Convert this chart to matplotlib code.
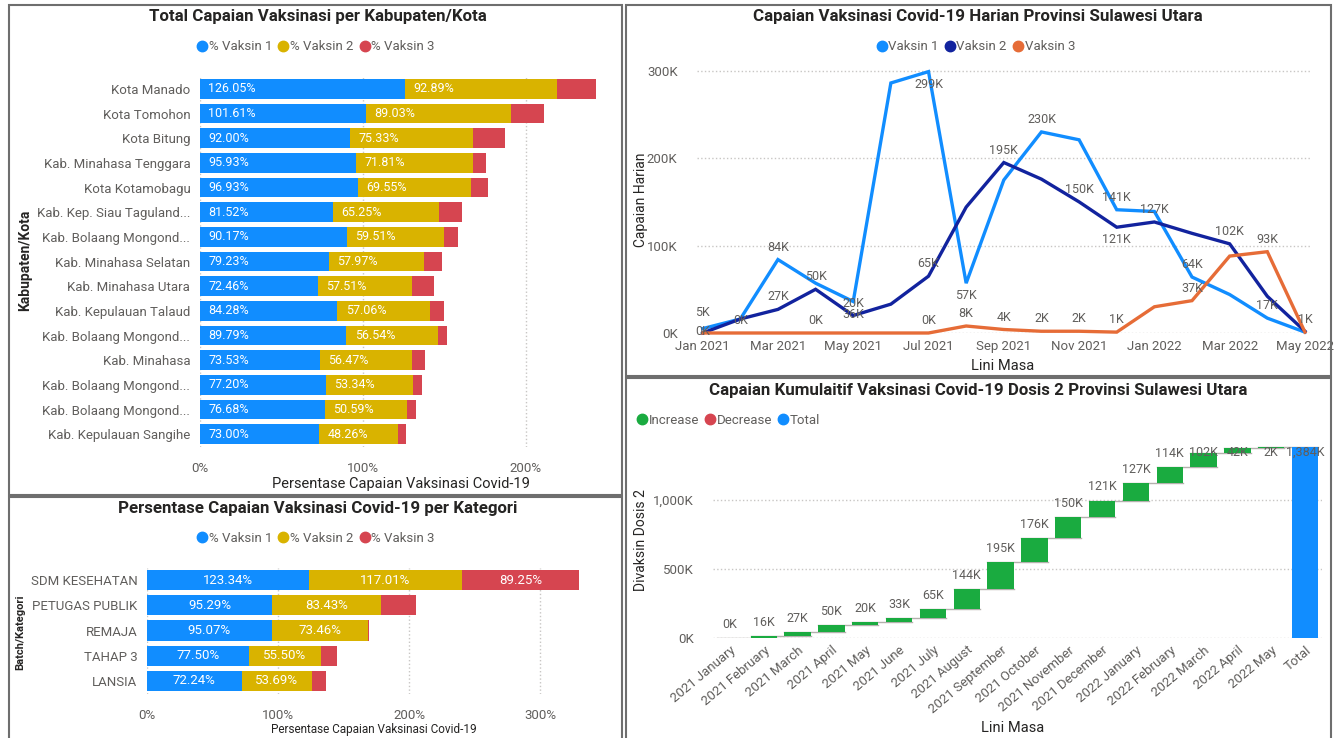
import numpy as np
import matplotlib
matplotlib.use("Agg")
import matplotlib.pyplot as plt
from matplotlib.lines import Line2D
from matplotlib.patches import Rectangle

plt.rcParams['font.family'] = ['Roboto', 'DejaVu Sans']

# ---- data ----
kabupaten = ["Kota Manado", "Kota Tomohon", "Kota Bitung", "Kab. Minahasa Tenggara",
             "Kota Kotamobagu", "Kab. Kep. Siau Taguland...", "Kab. Bolaang Mongond...",
             "Kab. Minahasa Selatan", "Kab. Minahasa Utara", "Kab. Kepulauan Talaud",
             "Kab. Bolaang Mongond...", "Kab. Minahasa", "Kab. Bolaang Mongond...",
             "Kab. Bolaang Mongond...", "Kab. Kepulauan Sangihe"]
kab_vaksin1 = [126.05, 101.61, 92.00, 95.93, 96.93, 81.52, 90.17, 79.23, 72.46, 84.28,
               89.79, 73.53, 77.20, 76.68, 73.00]
kab_vaksin2 = [92.89, 89.03, 75.33, 71.81, 69.55, 65.25, 59.51, 57.97, 57.51, 57.06,
               56.54, 56.47, 53.34, 50.59, 48.26]
kab_vaksin3 = [24.0, 20.5, 19.7, 8.0, 10.2, 14.1, 8.5, 11.2, 13.6, 8.3, 5.4, 8.0, 5.4, 5.1, 4.9]

kategori = ["SDM KESEHATAN", "PETUGAS PUBLIK", "REMAJA", "TAHAP 3", "LANSIA"]
kat_vaksin1 = [123.34, 95.29, 95.07, 77.50, 72.24]
kat_vaksin2 = [117.01, 83.43, 73.46, 55.50, 53.69]
kat_vaksin3 = [89.25, 26.5, 1.2, 12.0, 10.8]

bulan = ["Jan 2021", "Feb 2021", "Mar 2021", "Apr 2021", "May 2021", "Jun 2021",
         "Jul 2021", "Aug 2021", "Sep 2021", "Oct 2021", "Nov 2021", "Dec 2021",
         "Jan 2022", "Feb 2022", "Mar 2022", "Apr 2022", "May 2022"]
harian_vaksin1 = [5, 16, 84, 57, 36, 286, 299, 57, 175, 230, 221, 141, 139, 64, 44, 17, 1]   # ribu
harian_vaksin2 = [0, 16, 27, 50, 20, 33, 65, 144, 195, 176, 150, 121, 127, 114, 102, 42, 2]
harian_vaksin3 = [0, 0, 0, 0, 0, 0, 0, 8, 4, 2, 2, 1, 30, 37, 88, 93, 1]

# which points carry a data label: index -> vertical offset direction (+ above / - below)
label_v1 = {0: 1.3, 2: 1, 4: -1, 6: -1, 7: -1, 9: 1, 11: 1, 13: 1, 15: 1}
label_v2 = {0: 0.1, 2: 1, 3: 1, 4: 1, 6: 1, 8: 1, 10: 1, 11: -1, 12: 1, 14: 1}
label_v3 = {1: 1, 3: 1, 6: 1, 7: 1, 8: 1, 9: 1, 10: 1, 11: 1, 13: 1, 15: 1, 16: 1}

wf_labels = ["2021 January", "2021 February", "2021 March", "2021 April", "2021 May",
             "2021 June", "2021 July", "2021 August", "2021 September", "2021 October",
             "2021 November", "2021 December", "2022 January", "2022 February",
             "2022 March", "2022 April", "2022 May", "Total"]

# ---- style ----
C_V1 = "#118DFF"
C_V2 = "#D9B300"
C_V3 = "#D64550"
C_DARK = "#12239E"
C_ORANGE = "#E66C37"
C_GREEN = "#1AAB40"
TXT = "#252423"
GRAY = "#605E5C"
GRID = "#C8C6C4"
TITLE_FS = 12.2
TICK_FS = 9.5
LAB_FS = 9

W, H = 1337, 738
fig = plt.figure(figsize=(W / 100, H / 100), dpi=100)
fig.patch.set_facecolor("white")


def add_ax(x0, y0, x1, y1):
    return fig.add_axes([x0 / W, 1 - y1 / H, (x1 - x0) / W, (y1 - y0) / H])


def ftext(x, y, s, **kw):
    fig.text(x / W, 1 - y / H, s, **kw)


def legend(handles, x, y, loc="center"):
    fig.legend(handles=handles, loc=loc, bbox_to_anchor=(x / W, 1 - y / H), ncol=len(handles),
               frameon=False, handlelength=0.7, handletextpad=0.15, columnspacing=0.5,
               fontsize=TICK_FS, labelcolor=GRAY, borderaxespad=0)


def dot(c, lab):
    return Line2D([], [], marker="o", ls="", color=c, markersize=7.5, label=lab)


def clean(ax):
    for s in ax.spines.values():
        s.set_visible(False)
    ax.tick_params(length=0, colors=GRAY, labelsize=TICK_FS)


# panel frames
for (x0, y0, x1, y1) in [(9, 5, 622, 495), (9, 497, 622, 745), (626, 5, 1331, 376), (626, 378, 1331, 745)]:
    fig.add_artist(Rectangle((x0 / W, 1 - y1 / H), (x1 - x0) / W, (y1 - y0) / H,
                             transform=fig.transFigure, fill=False, ec="#6E6E6E", lw=1.5))

# ---- panel 1: per kabupaten/kota ----
ax1 = add_ax(200, 76.5, 605, 446.5)
y = np.arange(len(kabupaten))
v1 = np.array(kab_vaksin1)
v2 = np.array(kab_vaksin2)
v3 = np.array(kab_vaksin3)
ax1.barh(y, v1, height=0.8, color=C_V1)
ax1.barh(y, v2, left=v1, height=0.8, color=C_V2)
ax1.barh(y, v3, left=v1 + v2, height=0.8, color=C_V3)
for i in range(len(y)):
    ax1.annotate(f"{v1[i]:.2f}%", (0, i), xytext=(6, 0), textcoords="offset points",
                 va="center", ha="left", color="white", fontsize=LAB_FS)
    ax1.annotate(f"{v2[i]:.2f}%", (v1[i], i), xytext=(6, 0), textcoords="offset points",
                 va="center", ha="left", color="white", fontsize=LAB_FS)
ax1.set_ylim(len(y) - 0.5, -0.5)
ax1.set_xlim(0, 248.5)
ax1.set_yticks(y)
ax1.set_yticklabels(kabupaten)
ax1.set_xticks([0, 100, 200])
ax1.set_xticklabels(["0%", "100%", "200%"])
ax1.grid(axis="x", ls=":", color=GRID, lw=1)
ax1.set_axisbelow(True)
clean(ax1)
ax1.tick_params(axis="y", pad=7)
ax1.tick_params(axis="x", pad=11)
ftext(318, 16, "Total Capaian Vaksinasi per Kabupaten/Kota", ha="center", va="center",
      fontsize=TITLE_FS, fontweight="bold", color=TXT)
legend([dot(C_V1, "% Vaksin 1"), dot(C_V2, "% Vaksin 2"), dot(C_V3, "% Vaksin 3")], 316, 47)
ftext(401, 484, "Persentase Capaian Vaksinasi Covid-19", ha="center", va="center",
      fontsize=10.5, color=TXT)
ftext(25, 260, "Kabupaten/Kota", ha="center", va="center", rotation=90,
      fontsize=10, color=TXT, fontweight="bold")

# ---- panel 2: per kategori ----
ax2 = add_ax(147, 567.5, 590, 693.5)
yk = np.arange(len(kategori))
k1 = np.array(kat_vaksin1)
k2 = np.array(kat_vaksin2)
k3 = np.array(kat_vaksin3)
ax2.barh(yk, k1, height=0.8, color=C_V1)
ax2.barh(yk, k2, left=k1, height=0.8, color=C_V2)
ax2.barh(yk, k3, left=k1 + k2, height=0.8, color=C_V3)
for i in range(len(yk)):
    ax2.text(k1[i] / 2, i, f"{k1[i]:.2f}%", ha="center", va="center", color="white", fontsize=9.5)
    ax2.text(k1[i] + k2[i] / 2, i, f"{k2[i]:.2f}%", ha="center", va="center", color="white", fontsize=9.5)
    if k3[i] > 40:
        ax2.text(k1[i] + k2[i] + k3[i] / 2, i, f"{k3[i]:.2f}%", ha="center", va="center",
                 color="white", fontsize=9.5)
ax2.set_ylim(len(yk) - 0.5, -0.5)
ax2.set_xlim(0, 338)
ax2.set_yticks(yk)
ax2.set_yticklabels(kategori)
ax2.set_xticks([0, 100, 200, 300])
ax2.set_xticklabels(["0%", "100%", "200%", "300%"])
ax2.grid(axis="x", ls=":", color=GRID, lw=1)
ax2.set_axisbelow(True)
clean(ax2)
ax2.tick_params(axis="y", pad=7)
ax2.tick_params(axis="x", pad=11)
ftext(318, 508, "Persentase Capaian Vaksinasi Covid-19 per Kategori", ha="center", va="center",
      fontsize=TITLE_FS, fontweight="bold", color=TXT)
legend([dot(C_V1, "% Vaksin 1"), dot(C_V2, "% Vaksin 2"), dot(C_V3, "% Vaksin 3")], 316, 538)
ftext(374, 730, "Persentase Capaian Vaksinasi Covid-19", ha="center", va="center",
      fontsize=8.5, color=TXT)
ftext(20, 632, "Batch/Kategori", ha="center", va="center", rotation=90,
      fontsize=8, color=TXT, fontweight="bold")

# ---- panel 3: harian ----
ax3 = add_ax(697, 62, 1310.6, 333)
xm = np.arange(len(bulan))
series = [(harian_vaksin1, C_V1, label_v1), (harian_vaksin2, C_DARK, label_v2),
          (harian_vaksin3, C_ORANGE, label_v3)]
for vals, c, labs in series:
    ax3.plot(xm, vals, color=c, lw=2.4, clip_on=False, solid_joinstyle="miter")
for vals, c, labs in series:
    for i, d in labs.items():
        ax3.annotate(f"{vals[i]}K", (xm[i], vals[i]), xytext=(0, 9 * d), textcoords="offset points",
                     ha="center", va="center", color=GRAY, fontsize=LAB_FS)
ax3.set_xlim(-0.15, 16.15)
ax3.set_ylim(0, 310)
ax3.set_yticks([0, 100, 200, 300])
ax3.set_yticklabels(["0K", "100K", "200K", "300K"])
ax3.set_xticks(xm[::2])
ax3.set_xticklabels(bulan[::2])
ax3.grid(axis="y", ls=":", color=GRID, lw=1)
ax3.set_axisbelow(True)
clean(ax3)
ax3.tick_params(axis="y", pad=14)
ax3.tick_params(axis="x", pad=5)
ftext(978, 16, "Capaian Vaksinasi Covid-19 Harian Provinsi Sulawesi Utara", ha="center", va="center",
      fontsize=TITLE_FS, fontweight="bold", color=TXT)
legend([dot(C_V1, "Vaksin 1"), dot(C_DARK, "Vaksin 2"), dot(C_ORANGE, "Vaksin 3")], 976, 47)
ftext(1003, 366, "Lini Masa", ha="center", va="center", fontsize=10.5, color=TXT)
ftext(641, 200, "Capaian Harian", ha="center", va="center", rotation=90, fontsize=10, color=TXT)

# ---- panel 4: waterfall kumulatif dosis 2 ----
ax4 = add_ax(713, 441, 1322, 638)
inc = np.array(harian_vaksin2)
cum = np.cumsum(inc)
total = cum[-1]
xw = np.arange(len(inc))
bw = 0.78
for i in range(len(inc) - 1):
    ax4.plot([xw[i] - bw / 2, xw[i + 1] + bw / 2], [cum[i], cum[i]], color="#B3B0AD", lw=1, zorder=1)
ax4.plot([xw[-1] - bw / 2, len(inc) + bw / 2], [total, total], color="#B3B0AD", lw=1, zorder=1)
ax4.bar(xw, inc, bottom=cum - inc, width=bw, color=C_GREEN, zorder=2)
ax4.bar(len(inc), total, width=bw, color=C_V1, zorder=2)
for i in range(len(inc)):
    ax4.text(xw[i], min(cum[i] + 100, 1345), f"{inc[i]}K", ha="center", va="center",
             color=GRAY, fontsize=LAB_FS, zorder=3)
ax4.text(len(inc), min(total + 100, 1345), f"{total:,}K", ha="center", va="center",
         color=GRAY, fontsize=LAB_FS, zorder=3)
ax4.set_xlim(-0.5, len(inc) + 0.5)
ax4.set_ylim(0, 1430)
ax4.set_yticks([0, 500, 1000])
ax4.set_yticklabels(["0K", "500K", "1,000K"])
ax4.set_xticks(np.arange(len(wf_labels)))
ax4.set_xticklabels(wf_labels, rotation=40, ha="right", rotation_mode="anchor")
ax4.grid(axis="y", ls=":", color=GRID, lw=1)
ax4.set_axisbelow(True)
clean(ax4)
ax4.tick_params(axis="y", pad=14)
ax4.tick_params(axis="x", pad=4)
ftext(978, 390, "Capaian Kumulaitif Vaksinasi Covid-19 Dosis 2 Provinsi Sulawesi Utara",
      ha="center", va="center", fontsize=TITLE_FS, fontweight="bold", color=TXT)
legend([dot(C_GREEN, "Increase"), dot(C_V3, "Decrease"), dot(C_V1, "Total")], 632, 420, loc="center left")
ftext(1013, 728, "Lini Masa", ha="center", va="center", fontsize=10.5, color=TXT)
ftext(641, 540, "Divaksin Dosis 2", ha="center", va="center", rotation=90, fontsize=10, color=TXT)

fig.savefig("out.png", dpi=100, facecolor="white")
